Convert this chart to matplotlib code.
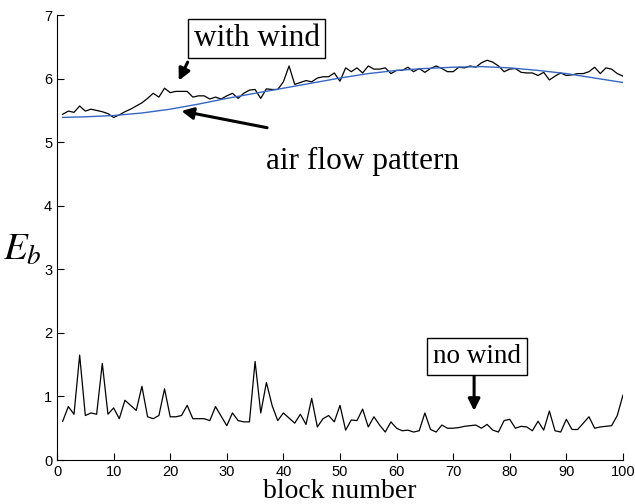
import numpy as np
import matplotlib
matplotlib.use("Agg")
import matplotlib.pyplot as plt

# block index 1..100
blocks = np.arange(1, 101)

# E_b with wind
with_wind = [
    5.44, 5.49, 5.47, 5.57, 5.49, 5.52, 5.50, 5.48, 5.45, 5.39,
    5.43, 5.48, 5.52, 5.57, 5.62, 5.69, 5.77, 5.71, 5.85, 5.78,
    5.80, 5.80, 5.80, 5.71, 5.73, 5.73, 5.68, 5.71, 5.68, 5.73,
    5.77, 5.69, 5.77, 5.82, 5.83, 5.69, 5.84, 5.83, 5.83, 5.95,
    6.20, 5.91, 5.94, 5.97, 5.95, 6.01, 6.03, 6.03, 6.09, 5.96,
    6.17, 6.11, 6.17, 6.09, 6.20, 6.15, 6.15, 6.17, 6.08, 6.13,
    6.13, 6.18, 6.11, 6.16, 6.10, 6.16, 6.20, 6.16, 6.11, 6.11,
    6.18, 6.17, 6.20, 6.18, 6.25, 6.29, 6.26, 6.20, 6.11, 6.15,
    6.16, 6.10, 6.09, 6.09, 6.05, 6.10, 5.98, 6.04, 6.09, 6.05,
    6.06, 6.08, 6.08, 6.11, 6.18, 6.08, 6.17, 6.15, 6.08, 6.04,
]

# E_b from air flow pattern (smooth curve, read at every 5 blocks)
flow_x = [1, 5, 10, 15, 20, 25, 30, 35, 40, 45, 50,
          55, 60, 65, 70, 75, 80, 85, 90, 95, 100]
flow_y = [5.39, 5.40, 5.42, 5.46, 5.52, 5.60, 5.69, 5.77, 5.85, 5.93, 6.01,
          6.08, 6.13, 6.16, 6.18, 6.19, 6.17, 6.13, 6.08, 6.01, 5.94]

# E_b without wind
no_wind = [
    0.61, 0.84, 0.72, 1.65, 0.70, 0.74, 0.72, 1.52, 0.72, 0.82,
    0.65, 0.94, 0.86, 0.78, 1.16, 0.68, 0.65, 0.70, 1.12, 0.68,
    0.68, 0.70, 0.86, 0.65, 0.65, 0.65, 0.62, 0.84, 0.69, 0.54,
    0.74, 0.62, 0.60, 0.60, 1.55, 0.74, 1.22, 0.86, 0.62, 0.74,
    0.66, 0.58, 0.72, 0.56, 0.97, 0.52, 0.65, 0.70, 0.60, 0.86,
    0.47, 0.63, 0.62, 0.80, 0.52, 0.68, 0.55, 0.44, 0.60, 0.50,
    0.46, 0.47, 0.44, 0.46, 0.74, 0.48, 0.44, 0.55, 0.50, 0.50,
    0.51, 0.53, 0.54, 0.55, 0.50, 0.56, 0.47, 0.44, 0.62, 0.64,
    0.50, 0.53, 0.52, 0.46, 0.61, 0.47, 0.77, 0.46, 0.44, 0.64,
    0.48, 0.48, 0.58, 0.68, 0.50, 0.52, 0.53, 0.54, 0.70, 1.02,
]

plt.rcParams["mathtext.fontset"] = "stix"
serif = "Liberation Serif"

fig = plt.figure(figsize=(6.35, 5.04), dpi=100)
ax = fig.add_axes([0.0898, 0.0873, 0.8912, 0.8827])

ax.plot(blocks, with_wind, color="black", lw=0.9)
ax.plot(flow_x, flow_y, color="#3765c2", lw=1.0)
ax.plot(blocks, no_wind, color="black", lw=0.9)

ax.set_xlim(0, 100)
ax.set_ylim(0, 7)
ax.set_xticks(range(0, 101, 10))
ax.set_yticks(range(0, 8))
for s in ["top", "right"]:
    ax.spines[s].set_visible(False)
ax.tick_params(direction="in", length=5, labelsize=10.5)
for lab in ax.get_xticklabels() + ax.get_yticklabels():
    lab.set_fontfamily("Liberation Sans")

ax.set_xlabel("block number", fontsize=20, family=serif)
ax.xaxis.set_label_coords(0.5, -0.043)
ax.xaxis.label.set_va("top")
ax.set_ylabel("$E_b$", fontsize=28, rotation=0)
ax.yaxis.set_label_coords(-0.062, 0.475)
ax.yaxis.label.set_va("center")

arrow = dict(arrowstyle="-|>,head_length=0.7,head_width=0.35", color="black", lw=2.2)

# with wind
ax.text(35.3, 6.63, "with wind", fontsize=22.5, family=serif,
        ha="center", va="center",
        bbox=dict(boxstyle="square,pad=0.17", fc="white", ec="black", lw=1))
ax.annotate("", xy=(21.3, 5.93), xytext=(23.3, 6.3), arrowprops=arrow)

# air flow pattern
ax.text(37.0, 4.7, "air flow pattern", fontsize=22.5, family=serif,
        ha="left", va="center")
ax.annotate("", xy=(21.5, 5.5), xytext=(37.6, 5.22), arrowprops=arrow)

# no wind
ax.text(74.2, 1.63, "no wind", fontsize=19.5, family=serif,
        ha="center", va="center",
        bbox=dict(boxstyle="square,pad=0.22", fc="white", ec="black", lw=1))
ax.annotate("", xy=(73.7, 0.73), xytext=(73.7, 1.36), arrowprops=arrow)

fig.savefig("out.png", dpi=100)
